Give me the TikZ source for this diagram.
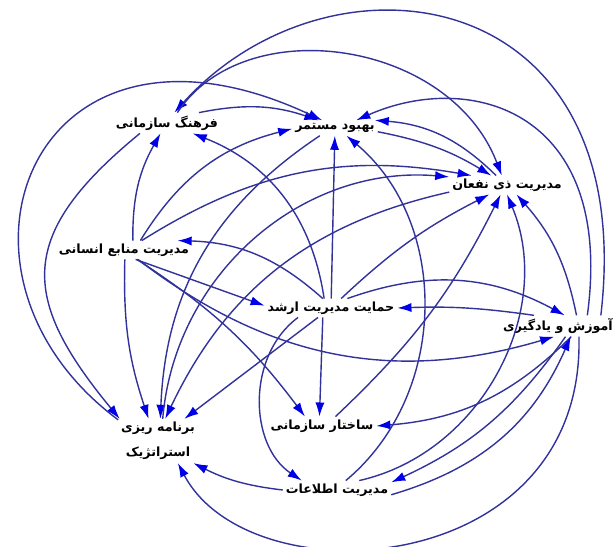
\documentclass[tikz,border=0pt]{standalone}
\usepackage{fontspec}
\newfontfamily\fa[Script=Arabic,BoldFont={DejaVu Sans Bold}]{DejaVu Sans}
\TeXXeTstate=1
\usetikzlibrary{arrows.meta}

\definecolor{linkline}{RGB}{50,50,155}
\definecolor{linktip}{RGB}{0,0,230}

\begin{document}
\begin{tikzpicture}[
    x=0.025cm, y=-0.025cm,
    every node/.style={font=\fa\bfseries\fontsize{9}{11}\selectfont},
    concept/.style={
        inner sep=2pt,
        text=black
    },
    link/.style={
        -{Latex[length=10pt,width=6.5pt,color=linktip]},
        draw=linkline,
        line width=1pt
    }
]
    \useasboundingbox (0,0) rectangle (614,547);

    % concepts
    \node[concept] (farhang) at (167,123) {\beginR فرهنگ سازمانی\endR};
    \node[concept] (behbood) at (335,128) {\beginR بهبود مستمر\endR};
    \node[concept] (zinafan) at (507,185) {\beginR مدیریت ذی نفعان\endR};
    \node[concept] (manabe) at (124,250) {\beginR مدیریت منابع انسانی\endR};
    \node[concept] (hemayat) at (331,308) {\beginR حمایت مدیریت ارشد\endR};
    \node[concept] (amoozesh) at (558,326) {\beginR آموزش و یادگیری\endR};
    \node[concept, align=center] (barname) at (158,441)
        {\beginR برنامه ریزی\endR\\[7pt]\beginR استراتژیک\endR};
    \node[concept] (sakhtar) at (322,426) {\beginR ساختار سازمانی\endR};
    \node[concept] (ettelaat) at (337,490) {\beginR مدیریت اطلاعات\endR};

    % links from amoozesh
    \draw[link] (amoozesh.14) .. controls (640,-20) and (330,-60) .. (farhang.55);
    \draw[link] (amoozesh.20) .. controls (615,110) and (470,70) .. (behbood.20);
    \draw[link] (amoozesh.30) to[bend right=15] (zinafan.315);
    \draw[link] (amoozesh.156) to[bend right=5] (hemayat.east);
    \draw[link] (amoozesh.321) to[bend left=20] (sakhtar.east);
    \draw[link] (amoozesh.305) to[bend left=15] (ettelaat.8);
    \draw[link] (amoozesh.333) .. controls (585,580) and (250,600) .. (barname.312);

    % links from ettelaat
    \draw[link] (ettelaat.180) to[bend left=10] (barname.328);
    \draw[link] (ettelaat.47) to[bend right=50] (behbood.326);
    \draw[link] (ettelaat.23) to[bend right=50] (zinafan.south);
    \draw[link] (ettelaat.355) to[bend right=25] (amoozesh.320);

    % links from hemayat
    \draw[link] (hemayat) -- (behbood);
    \draw[link] (hemayat.126) to[bend right=30] (farhang.338);
    \draw[link] (hemayat.131) to[bend right=20] (manabe.10);
    \draw[link] (hemayat.43) to[bend left=8] (zinafan.208);
    \draw[link] (hemayat.30) to[bend left=24] (amoozesh.58);
    \draw[link] (hemayat.229) -- (sakhtar.105);
    \draw[link] (hemayat.216) -- (barname.40);
    \draw[link] (hemayat.196) to[bend right=55] (ettelaat.165);

    % links from manabe
    \draw[link] (manabe.47) to[bend left=15] (farhang.238);
    \draw[link] (manabe.30) to[bend left=22] (behbood.181);
    \draw[link] (manabe.28) to[bend left=21] (zinafan.165);
    \draw[link] (manabe.321) -- (hemayat.178);
    \draw[link] (manabe.275) to[bend right=10] (barname.113);
    \draw[link] (manabe.324) to[bend left=10] (sakhtar.151);
    \draw[link] (manabe.326) to[bend right=27] (amoozesh.250);

    % links from farhang
    \draw[link] (farhang.18) to[bend left=15] (behbood.155);
    \draw[link] (farhang.45) .. controls (245,10) and (450,40) .. (zinafan.119);
    \draw[link] (farhang.201) .. controls (16,235) and (20,298) .. (barname.150);

    % links from behbood and zinafan
    \draw[link] (behbood.355) to[bend left=10] (zinafan.149);
    \draw[link] (behbood.207) to[bend right=27] (barname.84);
    \draw[link] (zinafan.139) to[bend right=20] (behbood.11);
    \draw[link] (zinafan.187) to[bend right=26] (barname.72);

    % links from sakhtar and barname
    \draw[link] (sakhtar.35) to[bend right=10] (zinafan.236);
    \draw[link] (barname.152) .. controls (-79,273) and (32,-16) .. (behbood.149);
    \draw[link] (barname.78) to[bend left=45] (zinafan.172);

\end{tikzpicture}
\end{document}
